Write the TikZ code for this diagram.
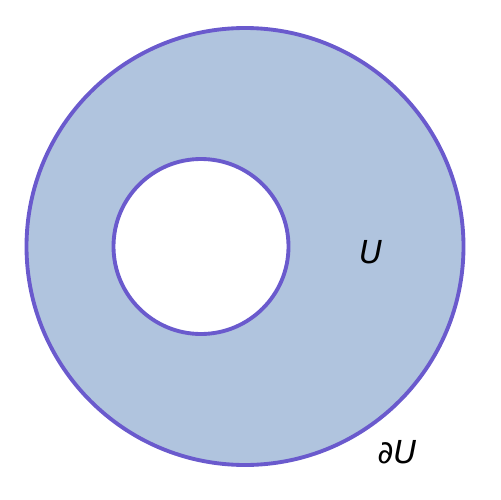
\documentclass[tikz,border=0pt]{standalone}
\usepackage{fontspec}
\setmainfont{DejaVu Sans}
\definecolor{fillc}{HTML}{B0C4DE}
\definecolor{linec}{HTML}{6A5ACD}
\begin{document}
\begin{tikzpicture}[x=0.02cm,y=-0.02cm,
  ring/.style={draw=linec,line width=2.2pt},
  lab/.style={font=\fontsize{18}{20}\selectfont\itshape,inner sep=0pt}]
\useasboundingbox (0,0) rectangle (500,500);
\coordinate (oc) at (245,246.5);
\coordinate (ic) at (201,246.5);
\fill[fillc,even odd rule] (oc) circle[radius=218.5*0.02cm] (ic) circle[radius=87.5*0.02cm];
\draw[ring] (oc) circle[radius=218.5*0.02cm];
\draw[ring] (ic) circle[radius=87.5*0.02cm];
\node[lab] (u) at (371,252) {U};
\node[lab] (du) at (397,452) {∂U};
\end{tikzpicture}
\end{document}
